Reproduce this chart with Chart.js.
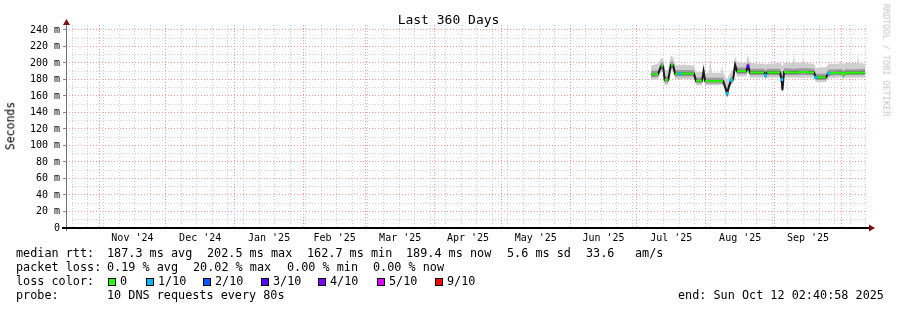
<!DOCTYPE html>
<html>
<head>
<meta charset="utf-8">
<script src="https://cdn.jsdelivr.net/npm/chart.js@4.4.1/dist/chart.umd.min.js"></script>
<style>
  html, body { margin: 0; padding: 0; background: #fff; }
  #wrap { position: relative; width: 897px; height: 310px; font-family: "DejaVu Sans Mono", monospace; color: #000; overflow: hidden; }
  #chart { position: absolute; left: 0; top: 0; }
  .t { position: absolute; white-space: pre; line-height: 1; transform: translateY(-50%); font-size: 11.8px; }
  .sw { position: absolute; width: 6px; height: 6px; border: 1px solid #000; }
  #title { position: absolute; left: 0; width: 897px; top: 19px; text-align: center; font-size: 13px; line-height: 1; transform: translateY(-50%); }
  #ylab { position: absolute; left: 11px; top: 126px; font-size: 11.5px; line-height: 1; transform: translate(-50%, -50%) rotate(-90deg); white-space: pre; }
  #brand { position: absolute; left: 886px; top: 60px; font-size: 8.5px; line-height: 1; color: #c4c4c4; transform: translate(-50%, -50%) rotate(90deg); white-space: pre; }
</style>
</head>
<body>
<div id="wrap">
  <canvas id="chart" width="897" height="310"></canvas>
  <div id="title">Last 360 Days</div>
  <div id="ylab">Seconds</div>
  <div id="brand">RRDTOOL / TOBI OETIKER</div>
  <div id="legend"></div>
</div>
<script>
// days since start of the graph (Oct 17 2024 02:40:58)
const days = [263.3, 266.4, 267.8, 268.7, 269.4, 271.0, 272.2, 273.2, 274.1, 276.3,
  277.7, 282.6, 283.5, 286.2, 286.9, 287.6, 289.4, 289.8, 290.7, 294.8,
  295.2, 295.7, 296.6, 297.5, 298.4, 299.3, 300.2, 301.1, 302.0, 306.0,
  306.9, 307.8, 314.1, 314.8, 315.5, 321.3, 322.0, 322.4, 323.1, 327.2,
  327.6, 328.0, 331.3, 331.7, 332.6, 336.6, 337.4, 341.9, 343.2, 347.9,
  348.3, 349.2, 349.9, 350.6, 356.0, 356.4, 356.8, 359.6];
// median rtt in ms
const median = [186, 186.5, 196, 196, 179.5, 179.5, 197.5, 197, 187, 187,
  187, 187, 178.5, 178.5, 190, 178, 178, 178, 178, 178,
  178, 178, 171, 163, 172, 179, 180, 197.5, 190, 190,
  196, 188.5, 188.5, 185, 188.5, 188.5, 180, 167, 189, 188.5,
  188.5, 188.5, 189, 189, 189, 188.5, 182.5, 182.5, 187.5, 188,
  188, 188, 185.5, 188, 188, 188, 188, 188.5];
// loss class per sample (index into lossColors)
const loss = [0, 0, 0, 0, 0, 0, 0, 0, 0, 1,
  0, 0, 0, 0, 0, 0, 0, 0, 0, 0,
  0, 0, 0, 1, 0, 1, 0, 0, 0, 0,
  3, 0, 0, 1, 0, 0, 1, 0, 0, 0,
  0, 0, 0, 0, 0, 0, 1, 0, 1, 0,
  0, 0, 0, 0, 0, 0, 0, 0];
// smoke: outer and inner ping spread
const smokeMin = [179.5, 180, 189, 189, 173, 173, 191, 190.5, 180.5, 180.5,
  180.5, 180.5, 173, 173, 183, 173, 173, 173, 173, 173,
  173, 173, 166, 160, 167, 174, 175, 190, 183.5, 183.5,
  188, 182, 182, 179, 182, 182, 171, 163, 182, 182,
  182, 182, 182, 182, 182, 182, 177, 177, 181.5, 182,
  182, 182, 180, 182, 182, 182, 182, 182];
const smokeLow = [182.5, 183, 192.5, 192.5, 176, 176, 194, 193.5, 183.5, 183.5,
  183.5, 183.5, 175.5, 175.5, 186.5, 175, 175, 175, 175, 175,
  175, 175, 168, 161.5, 169, 176, 177, 194, 186.5, 186.5,
  192, 185, 185, 182, 185, 185, 176, 165, 185.5, 185,
  185, 185, 185.5, 185.5, 185.5, 185, 179.5, 179.5, 184.5, 185,
  185, 185, 182.5, 185, 185, 185, 185, 185];
const smokeHigh = [190.5, 191, 200.5, 200.5, 184, 184, 202, 201.5, 191.5, 191.5,
  191.5, 191.5, 182.5, 182.5, 194, 182, 182, 182, 182, 182,
  182, 182, 176, 168, 177, 183, 184, 202, 194.5, 194.5,
  200.5, 193, 193, 190, 193, 193, 188, 180, 193.5, 193,
  193, 193, 193.5, 193.5, 193.5, 193, 187, 187, 192, 192.5,
  192.5, 192.5, 190, 192.5, 192.5, 192.5, 192.5, 193];
const smokeMax = [197, 199, 206, 205, 191, 192, 209, 207, 198, 197,
  198, 197, 189, 189, 201, 188, 188, 206, 188, 188,
  200, 188, 184, 180, 186, 190, 192, 208, 201, 200,
  210, 200, 199, 198, 199, 200, 198, 196, 200, 200,
  214, 200, 200, 205, 200, 199, 194, 195, 199, 199,
  203, 200, 198, 200, 200, 211, 200, 199];

const lossLabels = ["0", "1/10", "2/10", "3/10", "4/10", "5/10", "9/10"];
const lossColors = ["#26ff00", "#00b8ff", "#0059ff", "#5e00ff", "#7e00ff", "#dd00ff", "#ff0000"];
const monthLabels = ["Nov '24", "Dec '24", "Jan '25", "Feb '25", "Mar '25", "Apr '25",
  "May '25", "Jun '25", "Jul '25", "Aug '25", "Sep '25"];
const yTicks = [0, 10, 20, 30, 40, 50, 60, 70, 80, 90, 100, 110, 120, 130, 140, 150,
  160, 170, 180, 190, 200, 210, 220, 230, 240];

// legend layout
const swatchX = [108, 146, 203, 261, 318, 377, 435];
const legendTexts = [
  [16, 254, "median rtt:"], [107, 254, "187.3 ms avg"], [207, 254, "202.5 ms max"],
  [307, 254, "162.7 ms min"], [406, 254, "189.4 ms now"], [507, 254, "5.6 ms sd"],
  [586, 254, "33.6"], [635, 254, "am/s"],
  [16, 268, "packet loss:"], [107, 268, "0.19 % avg"], [193, 268, "20.02 % max"],
  [287, 268, "0.00 % min"], [373, 268, "0.00 % now"],
  [16, 282, "loss color:"],
  [16, 296, "probe:"], [107, 296, "10 DNS requests every 80s"],
  [678, 296, "end: Sun Oct 12 02:40:58 2025"],
];

const legend = document.getElementById("legend");
legendTexts.forEach(([x, y, s]) => {
  const d = document.createElement("div");
  d.className = "t";
  d.style.left = x + "px";
  d.style.top = y + "px";
  d.textContent = s;
  legend.appendChild(d);
});
lossLabels.forEach((lab, i) => {
  const sw = document.createElement("div");
  sw.className = "sw";
  sw.style.left = swatchX[i] + "px";
  sw.style.top = "278px";
  sw.style.background = lossColors[i];
  legend.appendChild(sw);
  const d = document.createElement("div");
  d.className = "t";
  d.style.left = swatchX[i] + 12 + "px";
  d.style.top = "282px";
  d.textContent = lab;
  legend.appendChild(d);
});

// x axis ticks: weeks (minor), month starts (major), mid month (labels)
const startMs = Date.UTC(2024, 9, 17, 2, 40, 58);
const dayOf = (y, m, d) => (Date.UTC(y, m, d) - startMs) / 86400000;
const xTicks = [];
for (let k = 0; k < 60; k++) {
  const v = dayOf(2024, 9, 20 + 7 * k);
  if (v > 0 && v < 360) xTicks.push({ value: v, kind: "week" });
}
const monthStarts = [];
for (let k = 0; k < 12; k++) monthStarts.push(dayOf(2024, 10 + k, 1));
monthStarts.forEach((v) => xTicks.push({ value: v, kind: "month" }));
monthLabels.forEach((lab, i) => {
  xTicks.push({ value: (monthStarts[i] + monthStarts[i + 1]) / 2, kind: "label", txt: lab });
});
xTicks.sort((a, b) => a.value - b.value);

const RED = "#f09c9c";
const GREY = "#cccccc";

const pts = (arr) => days.map((d, i) => ({ x: d, y: arr[i] }));
const smokeDs = (arr, fill, color, order) => ({
  data: pts(arr),
  borderWidth: 0,
  pointRadius: 0,
  fill: fill,
  backgroundColor: color,
  order: order,
});

const axisPlugin = {
  id: "rrdAxis",
  afterDraw(chart) {
    const { ctx, chartArea: a } = chart;
    ctx.save();
    ctx.strokeStyle = "#707070";
    ctx.lineWidth = 1;
    ctx.beginPath();
    ctx.moveTo(a.left + 0.5, 22);
    ctx.lineTo(a.left + 0.5, a.bottom + 3);
    ctx.stroke();
    ctx.strokeStyle = "#000";
    ctx.lineWidth = 2;
    ctx.beginPath();
    ctx.moveTo(a.left - 4, a.bottom);
    ctx.lineTo(a.right + 3, a.bottom);
    ctx.stroke();
    ctx.fillStyle = "#7a1010";
    ctx.beginPath();
    ctx.moveTo(a.left + 0.5, 19);
    ctx.lineTo(a.left - 3, 25);
    ctx.lineTo(a.left + 4, 25);
    ctx.closePath();
    ctx.fill();
    ctx.beginPath();
    ctx.moveTo(a.right + 9, a.bottom);
    ctx.lineTo(a.right + 3, a.bottom - 3.5);
    ctx.lineTo(a.right + 3, a.bottom + 3.5);
    ctx.closePath();
    ctx.fill();
    ctx.restore();
  },
};

const ctx = document.getElementById("chart").getContext("2d");
new Chart(ctx, {
  type: "line",
  data: {
    datasets: [
      smokeDs(smokeMin, false, "transparent", 6),
      smokeDs(smokeMax, "-1", "#cfcfcf", 5),
      smokeDs(smokeLow, false, "transparent", 4),
      smokeDs(smokeHigh, "-1", "#9a9a9a", 3),
      {
        data: pts(median),
        borderColor: "#1c1c1c",
        borderWidth: 2,
        pointRadius: 0,
        fill: false,
        order: 2,
      },
      {
        data: pts(median),
        borderWidth: 2,
        fill: false,
        order: 1,
        segment: {
          borderColor: (c) =>
            Math.abs(c.p1.parsed.y - c.p0.parsed.y) > 3 ? "transparent" : lossColors[0],
        },
        pointStyle: "rect",
        pointRadius: (c) => (loss[c.dataIndex] > 0 ? 2.2 : 0),
        pointBorderWidth: 0,
        pointBackgroundColor: (c) => lossColors[loss[c.dataIndex]],
      },
    ],
  },
  options: {
    responsive: false,
    animation: false,
    events: [],
    layout: { padding: { top: 25, right: 31, bottom: 60, left: 0 } },
    plugins: { legend: { display: false }, tooltip: { enabled: false } },
    scales: {
      x: {
        type: "linear",
        min: 0,
        max: 360,
        afterBuildTicks: (s) => { s.ticks = xTicks.map((t) => ({ ...t })); },
        afterFit: (s) => { s.height = 22; },
        ticks: {
          autoSkip: false,
          maxRotation: 0,
          padding: 4,
          color: "#000",
          font: { family: "DejaVu Sans Mono", size: 10 },
          callback: (v, i, ticks) => ticks[i].txt || "",
        },
        grid: {
          drawTicks: false,
          lineWidth: (c) => (c.tick && c.tick.kind === "label" ? 0 : 1),
          color: (c) => (c.tick && c.tick.kind === "month" ? RED : GREY),
        },
        border: { display: false, dash: [1, 2] },
      },
      y: {
        min: 0,
        max: 246,
        afterBuildTicks: (s) => { s.ticks = yTicks.map((v) => ({ value: v })); },
        afterFit: (s) => { s.width = 66; },
        ticks: {
          autoSkip: false,
          padding: 3,
          color: "#000",
          font: { family: "DejaVu Sans Mono", size: 10 },
          callback: (v) => (v % 20 === 0 ? (v === 0 ? "0" : v + " m") : ""),
        },
        grid: {
          tickLength: 3,
          lineWidth: (c) => (c.tick && c.tick.value === 0 ? 0 : 1),
          color: (c) => (c.tick && c.tick.value % 20 === 0 ? RED : GREY),
          tickColor: (c) => (c.tick && c.tick.value % 20 === 0 ? "#888" : "transparent"),
        },
        border: { display: false, dash: [1, 2] },
      },
    },
  },
  plugins: [axisPlugin],
});
</script>
</body>
</html>
